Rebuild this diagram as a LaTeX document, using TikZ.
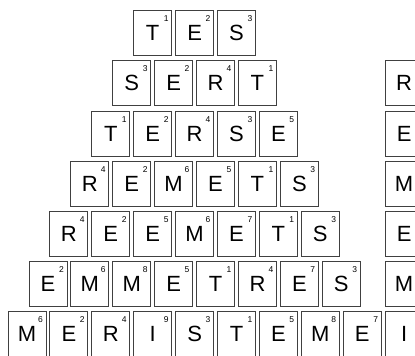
\documentclass[tikz,border=0pt]{standalone}
\usepackage{fontspec}
\setmainfont{Liberation Sans}
\tikzset{
  tile/.style={draw=black!75, line width=0.9pt, minimum width=38pt,
    minimum height=45pt, inner sep=0pt, font=\fontsize{22}{22}\selectfont},
  score/.style={inner sep=0pt, font=\fontsize{8.5}{8.5}\selectfont}
}
\newcommand{\tile}[4]{%
  \node [tile] (t#1) at (#2) {#3};
  \node [score] (s#1) at ([xshift=-6pt,yshift=-8.5pt]t#1.north east) {#4};}
\begin{document}
\begin{tikzpicture}[x=1pt,y=-1pt]
    \useasboundingbox (0,0) rectangle (415,356);
    \foreach \r/\w in {1/{T/1,E/2,S/3},
                       2/{S/3,E/2,R/4,T/1},
                       3/{T/1,E/2,R/4,S/3,E/5},
                       4/{R/4,E/2,M/6,E/5,T/1,S/3},
                       5/{R/4,E/2,E/5,M/6,E/7,T/1,S/3},
                       6/{E/2,M/6,M/8,E/5,T/1,R/4,E/7,S/3},
                       7/{M/6,E/2,R/4,I/9,S/3,T/1,E/5,M/8,E/7,I/9}}
        {\foreach \l/\n [count=\c] in \w
            {\pgfmathsetmacro{\px}{27+(7-\r)*20.95+(\c-1)*41.9}
            \pgfmathsetmacro{\py}{33.2+(\r-1)*50.2}
            \tile{\r-\c}{\px,\py}{\l}{\n}}}
    % column at the right edge
    \foreach \l/\n [count=\r from 2] in {R/4,E/5,M/6,E/7,M/8}
        {\pgfmathsetmacro{\py}{33.2+(\r-1)*50.2}
        \tile{k\r}{404.1,\py}{\l}{\n}}
\end{tikzpicture}
\end{document}
